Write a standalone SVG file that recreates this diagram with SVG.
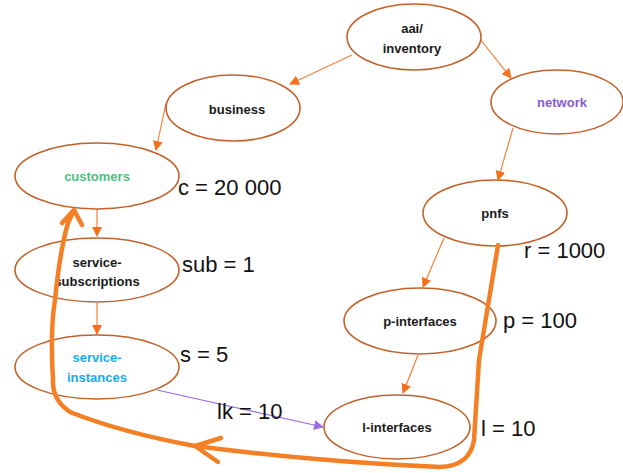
<svg xmlns="http://www.w3.org/2000/svg" width="623" height="473" viewBox="0 0 623 473">
<style>
.node ellipse{fill:#fff;stroke:#c2622b;stroke-width:1.6}
.nt{font-family:"Liberation Sans",Arial,sans-serif;font-weight:bold;font-size:13px;text-anchor:middle;fill:#1a1a1a}
.val{font-family:"Liberation Sans",Arial,sans-serif;font-size:22px;fill:#111}
.thin{stroke:#f4803a;stroke-width:1.2;fill:none;marker-end:url(#ah)}
.thick{stroke:#f47f24;stroke-width:4.5;fill:none;stroke-linecap:round;stroke-linejoin:round}
</style>
<defs>
<marker id="ah" markerWidth="10" markerHeight="10" refX="9" refY="5" orient="auto" markerUnits="userSpaceOnUse">
<path d="M0,0 L10,5 L0,10 Z" fill="#f4701c"/>
</marker>
<marker id="ahp" markerWidth="10" markerHeight="10" refX="9" refY="5" orient="auto" markerUnits="userSpaceOnUse">
<path d="M0,0 L10,5 L0,10 Z" fill="#9b6fe0"/>
</marker>
</defs>
<rect width="623" height="473" fill="#fff"/>
<g id="connectors">
<line class="thin" x1="352" y1="55" x2="290" y2="84"/>
<line class="thin" x1="480" y1="39" x2="511" y2="78"/>
<line class="thin" x1="166" y1="103" x2="156" y2="150"/>
<line class="thin" x1="513" y1="128" x2="498" y2="180"/>
<line class="thin" x1="97" y1="208" x2="97" y2="236"/>
<line class="thin" x1="97" y1="303" x2="97" y2="334"/>
<line class="thin" x1="444" y1="238" x2="423" y2="287"/>
<line class="thin" x1="418" y1="355" x2="403" y2="393"/>
<line x1="157" y1="390" x2="323" y2="427" stroke="#9b6fe0" stroke-width="1.2" marker-end="url(#ahp)"/>
</g>
<g id="aai-inventory" class="node"><ellipse cx="414" cy="37" rx="67" ry="33"/><text class="nt" x="412" y="33">aai/</text><text class="nt" x="412" y="53">inventory</text></g>
<g id="business" class="node"><ellipse cx="233" cy="108" rx="67" ry="33"/><text class="nt" x="237" y="114">business</text></g>
<g id="network" class="node"><ellipse cx="557" cy="102" rx="66" ry="32"/><text class="nt" x="562" y="107" style="fill:#8a5bd6">network</text></g>
<g id="customers" class="node"><ellipse cx="97" cy="176" rx="82" ry="33"/><text class="nt" x="97" y="181" style="fill:#4dbf80">customers</text></g>
<g id="service-subscriptions" class="node"><ellipse cx="97" cy="270" rx="82" ry="32"/><text class="nt" x="97" y="267">service-</text><text class="nt" x="97" y="286">subscriptions</text></g>
<g id="service-instances" class="node"><ellipse cx="97" cy="367" rx="82" ry="32"/><text class="nt" x="97" y="362" style="fill:#1aaaf0">service-</text><text class="nt" x="97" y="382" style="fill:#1aaaf0">instances</text></g>
<g id="pnfs" class="node"><ellipse cx="495" cy="213" rx="72" ry="33"/><text class="nt" x="495" y="218">pnfs</text></g>
<g id="p-interfaces" class="node"><ellipse cx="420" cy="321" rx="76" ry="33"/><text class="nt" x="420" y="326">p-interfaces</text></g>
<g id="l-interfaces" class="node"><ellipse cx="397" cy="427" rx="73" ry="32"/><text class="nt" x="397" y="432">l-interfaces</text></g>
<g id="values">
<text class="val" x="178" y="195">c = 20 000</text>
<text class="val" x="182" y="272">sub = 1</text>
<text class="val" x="180" y="362">s = 5</text>
<text class="val" x="524" y="258">r = 1000</text>
<text class="val" x="503" y="328">p = 100</text>
<text class="val" x="217" y="419">lk = 10</text>
<text class="val" x="481" y="436">l = 10</text>
</g>
<g id="loop">
<path class="thick" d="M498,245 L479,360 Q476,410 474,440 Q470,466 440,467 Q320,462 195,446 Q120,432 70,412 Q52,400 53,380 Q50,330 55,300 Q60,250 68,223 L74,210"/>
<path class="thick" d="M62,223 L74,210 L82,225"/>
<path class="thick" d="M221,438 L195,446 L218,462"/>
</g>
</svg>
